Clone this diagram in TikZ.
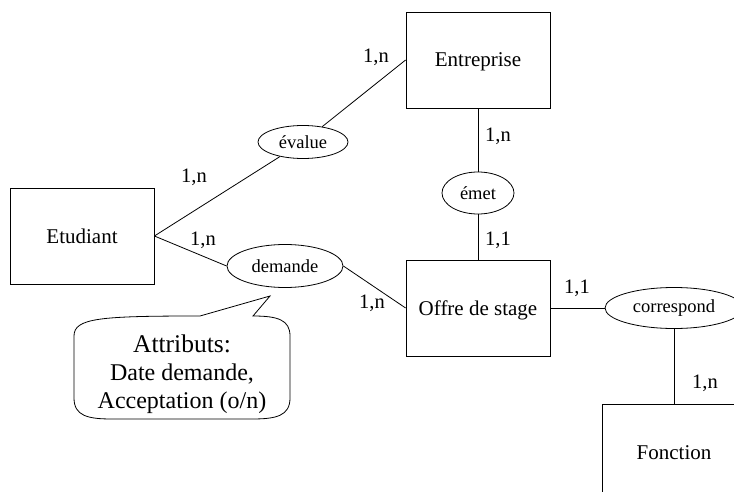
\documentclass[tikz,border=0pt]{standalone}
\usepackage{fontspec}
\setmainfont{Liberation Serif}
\usetikzlibrary{shapes.geometric, positioning}

\begin{document}
\begin{tikzpicture}[x=1pt, y=-1pt, line width=0.8pt,
  entite/.style={rectangle, draw, minimum width=144pt, minimum height=96pt,
    font=\fontsize{21}{21}\selectfont, text height=14pt, text depth=0pt},
  relation/.style={ellipse, draw, inner sep=0pt, font=\fontsize{18.5}{18.5}\selectfont},
  card/.style={font=\fontsize{20.5}{20.5}\selectfont}]
\useasboundingbox (0,0) rectangle (734,492);
\clip (0,0) rectangle (734,492);

% Entities
\node[entite] (etudiant) at (82,236) {Etudiant};
\node[entite] (entreprise) at (478,60) {Entreprise};
\node[entite] (offre) at (478,308) {Offre de stage};
\node[entite] (fonction) at (674,452) {Fonction};

% Relations
\node[relation, minimum width=90pt, minimum height=33pt] (evalue) at (303,142) {évalue};
\node[relation, minimum width=116pt, minimum height=43pt] (demande) at (285,266) {demande};
\node[relation, minimum width=72pt, minimum height=42pt] (emet) at (478,193) {émet};
\node[relation, minimum width=138pt, minimum height=41pt] (correspond) at (674,308) {correspond};

% Links
\draw (etudiant.east) -- (evalue);
\draw (evalue) -- (entreprise.west);
\draw (etudiant.east) -- (demande.west);
\draw (demande.east) -- (offre.west);
\draw (entreprise) -- (emet);
\draw (emet) -- (offre);
\draw (offre) -- (correspond);
\draw (correspond) -- (fonction);

% Cardinalities
\node[card] (c1) at (376,57) {1,n};
\node[card] (c2) at (194,177) {1,n};
\node[card] (c3) at (203,240) {1,n};
\node[card] (c4) at (498,136) {1,n};
\node[card] (c5) at (498,240) {1,1};
\node[card] (c6) at (372,303) {1,n};
\node[card] (c7) at (577,288) {1,1};
\node[card] (c8) at (705,383) {1,n};

% Attributes callout
\draw (253,316) -- (270,296) -- (200,316)
  .. controls (100,316) and (74,318) .. (74,336) -- (74,398)
  .. controls (74,416) and (88,419) .. (112,419) -- (252,419)
  .. controls (276,419) and (290,416) .. (290,398) -- (290,336)
  .. controls (290,320) and (278,316) .. cycle;
\node[align=center, font=\fontsize{24}{28}\selectfont] (attr) at (182,374)
  {{\fontsize{25.5}{28}\selectfont Attributs:}\\Date demande,\\Acceptation (o/n)};
\end{tikzpicture}
\end{document}
